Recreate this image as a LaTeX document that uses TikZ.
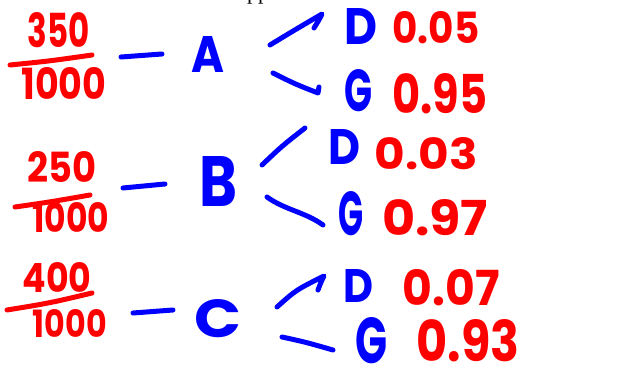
\documentclass[tikz,border=0pt]{standalone}
\usepackage{graphicx}
\usepackage{fontspec}
\setmainfont{Poppins}
\newfontfamily\headserif{Liberation Serif}
% text fitted to a given width and height (in pt)
\newcommand\handw[3]{\resizebox{#1pt}{#2pt}{#3}}
\begin{document}
\begin{tikzpicture}[x=1pt,y=-1pt,
  ink/.style={line width=5pt,line cap=round,line join=round},
  redink/.style={ink,draw=red},
  blueink/.style={ink,draw=blue},
  num/.style={text=red,inner sep=0pt,font=\fontsize{40}{40}\selectfont\bfseries},
  lab/.style={text=blue,inner sep=0pt,font=\fontsize{48}{48}\selectfont\bfseries}]
\useasboundingbox (0,0) rectangle (625,371);

% heading, cut off at the top edge
\begin{scope}
  \clip (0,0) rectangle (625,371);
  \node[anchor=base,inner sep=0pt,font=\headserif\fontsize{22}{22}\selectfont] (head) at (258,0) {pp};
\end{scope}

% ---------- supplier A ----------
\node[num] (fa1) at (59,30) {\handw{62}{35}{350}};
\node[num] (fa2) at (64,84) {\handw{85}{32}{1000}};
\coordinate (barA1) at (10,65); \coordinate (barA2) at (92,55);
\draw[redink] (barA1) .. controls (50,61) .. (barA2);
\coordinate (dA1) at (121,57); \coordinate (dA2) at (162,54);
\draw[blueink] (dA1) -- (dA2);
\node[lab] (A) at (208,55) {\handw{33}{36}{A}};
\node[lab] (DA) at (361,27) {\handw{33}{36}{D}};
\node[num] (pDA) at (436,28) {\handw{87}{32}{0.05}};
\node[lab] (GA) at (358,91) {\handw{28}{42}{G}};
\node[num] (pGA) at (440,94) {\handw{95}{40}{0.95}};
\coordinate (aU1) at (270,45); \coordinate (aU2) at (322,14); \coordinate (aU3) at (314,28);
\draw[blueink] (aU1) .. controls (293,31) .. (aU2) .. controls (319,20) .. (aU3);
\coordinate (aL1) at (273,73); \coordinate (aL2) at (318,93); \coordinate (aL3) at (319,87);
\draw[blueink] (aL1) .. controls (295,84) .. (aL2) -- (aL3);

% ---------- supplier B ----------
\node[num] (fb1) at (62,167) {\handw{69}{31}{250}};
\node[num] (fb2) at (71,218) {\handw{77}{30}{1000}};
\coordinate (barB1) at (15,207); \coordinate (barB2) at (90,195);
\draw[redink] (barB1) .. controls (50,202) .. (barB2);
\coordinate (dB1) at (123,188); \coordinate (dB2) at (165,184);
\draw[blueink] (dB1) -- (dB2);
\node[lab] (B) at (219,182) {\handw{38}{50}{B}};
\node[lab] (DB) at (344,147) {\handw{32}{35}{D}};
\node[num] (pDB) at (426,154) {\handw{103}{32}{0.03}};
\node[lab] (GB) at (351,214) {\handw{25}{44}{G}};
\node[num] (pGB) at (435,218) {\handw{106}{36}{0.97}};
\coordinate (bU1) at (262,165); \coordinate (bU2) at (305,128);
\draw[blueink] (bU1) .. controls (282,146) .. (bU2);
\coordinate (bL1) at (267,197); \coordinate (bL2) at (323,225);
\draw[blueink] (bL1) .. controls (285,210) and (305,212) .. (bL2);

% ---------- supplier C ----------
\node[num] (fc1) at (57,278) {\handw{69}{30}{400}};
\node[num] (fc2) at (70,324) {\handw{74}{28}{1000}};
\coordinate (barC1) at (7,310); \coordinate (barC2) at (92,293);
\draw[redink] (barC1) .. controls (50,303) .. (barC2);
\coordinate (dC1) at (133,313); \coordinate (dC2) at (173,310);
\draw[blueink] (dC1) -- (dC2);
\node[lab] (C) at (218,319) {\handw{47}{38}{C}};
\node[lab] (DC) at (358,286) {\handw{30}{33}{D}};
\node[num] (pDC) at (451,288) {\handw{97}{36}{0.07}};
\node[lab] (GC) at (371,341) {\handw{32}{46}{G}};
\node[num] (pGC) at (468,341) {\handw{103}{42}{0.93}};
\coordinate (cU1) at (277,307); \coordinate (cU2) at (324,276); \coordinate (cU3) at (318,290);
\draw[blueink] (cU1) .. controls (296,290) .. (cU2) .. controls (321,282) .. (cU3);
\coordinate (cL1) at (282,337); \coordinate (cL2) at (333,350);
\draw[blueink] (cL1) .. controls (305,342) .. (cL2);
\end{tikzpicture}
\end{document}
